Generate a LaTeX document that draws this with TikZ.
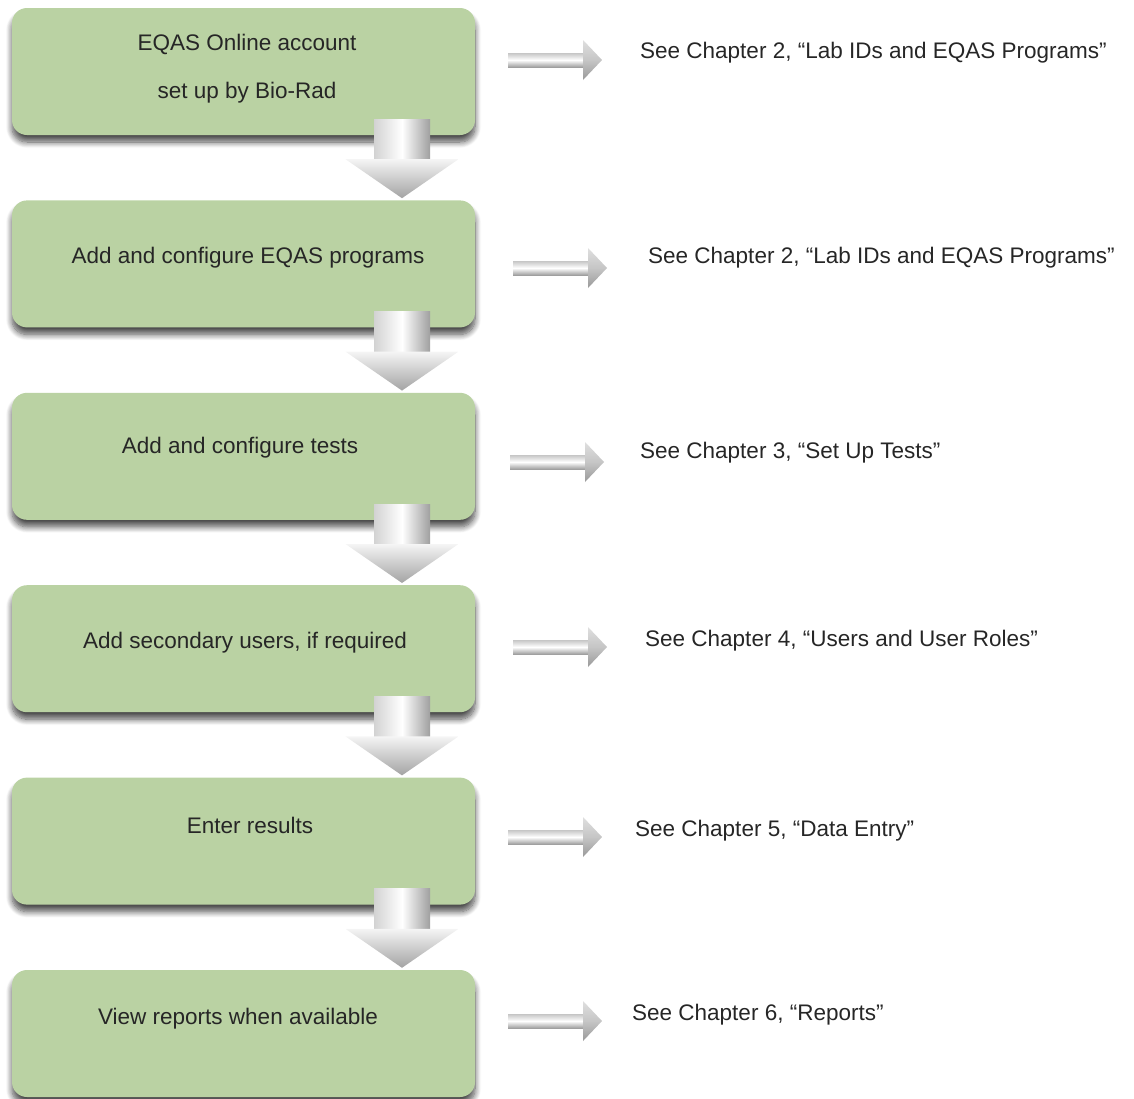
\documentclass[tikz,border=0pt]{standalone}
\usepackage{xcolor}
\usepackage{fontspec}
\setmainfont{Liberation Sans}
\usepackage{tikz}
\usetikzlibrary{positioning, calc, shadows.blur}
\definecolor{stepfill}{HTML}{BAD2A3}
\definecolor{textdark}{HTML}{262626}
\tikzset{
    stepbox/.style={
        rectangle, rounded corners=15pt, fill=stepfill,
        minimum width=463pt, minimum height=127pt, inner sep=0pt,
        blur shadow={shadow xshift=0pt, shadow yshift=-7pt,
            shadow blur radius=6pt, shadow blur steps=10, shadow opacity=70}
    },
    steptext/.style={
        font=\fontsize{22.5}{48}\selectfont, text=textdark,
        align=center, inner sep=0pt, anchor=base
    },
    reftext/.style={
        font=\fontsize{22.5}{27}\selectfont, text=textdark,
        inner sep=0pt, anchor=base west
    },
    downshaft/.style={
        left color=gray!35, right color=gray!75, middle color=white
    },
    downhead/.style={
        top color=gray!8, bottom color=gray!72
    },
    sideshaft/.style={
        top color=gray!45, bottom color=gray!75, middle color=white
    },
    sidehead/.style={
        top color=gray!25, bottom color=gray!80, middle color=gray!45
    },
}

\begin{document}
\begin{tikzpicture}[x=1pt, y=-1pt, node distance=65pt]
    \useasboundingbox (0,0) rectangle (1134,1098);

    % Left column: steps
    \node[stepbox] (b1) at (243.5,71.5) {};
    \node[stepbox, below=of b1] (b2) {};
    \node[stepbox, below=of b2] (b3) {};
    \node[stepbox, below=of b3] (b4) {};
    \node[stepbox, below=of b4] (b5) {};
    \node[stepbox, below=of b5] (b6) {};

    \node[steptext, anchor=north] (t1) at (247,33.5) {EQAS Online account\\set up by Bio-Rad};
    \node[steptext] (t2) at (248,263) {Add and configure EQAS programs};
    \node[steptext] (t3) at (240,453) {Add and configure tests};
    \node[steptext] (t4) at (245,648) {Add secondary users, if required};
    \node[steptext] (t5) at (250,833) {Enter results};
    \node[steptext] (t6) at (238,1024) {View reports when available};

    % Down arrows between steps
    \foreach \n in {1,...,5} {
        \coordinate (d\n) at ([xshift=158.5pt]b\n.south);
        \path[downshaft, shift={(d\n)}] (-28,-16) rectangle (28,24);
        \path[downhead, shift={(d\n)}] (-56.5,24) -- (56.5,24) -- (0,63) -- cycle;
    }

    % Right column: chapter references
    \coordinate (s1) at (508,60);
    \coordinate (s2) at (513,268);
    \coordinate (s3) at (510,462);
    \coordinate (s4) at (513,647);
    \coordinate (s5) at (508,837);
    \coordinate (s6) at (508,1021);
    \foreach \n in {1,...,6} {
        \path[sideshaft, shift={(s\n)}] (0,-7) rectangle (76,7);
        \path[sidehead, shift={(s\n)}] (75,-20) -- (94,0) -- (75,20) -- cycle;
    }

    \node[reftext] (r1) at (640,58) {See Chapter 2, “Lab IDs and EQAS Programs”};
    \node[reftext] (r2) at (648,263) {See Chapter 2, “Lab IDs and EQAS Programs”};
    \node[reftext] (r3) at (640,458) {See Chapter 3, “Set Up Tests”};
    \node[reftext] (r4) at (645,646) {See Chapter 4, “Users and User Roles”};
    \node[reftext] (r5) at (635,836) {See Chapter 5, “Data Entry”};
    \node[reftext] (r6) at (632,1020) {See Chapter 6, “Reports”};

\end{tikzpicture}
\end{document}
